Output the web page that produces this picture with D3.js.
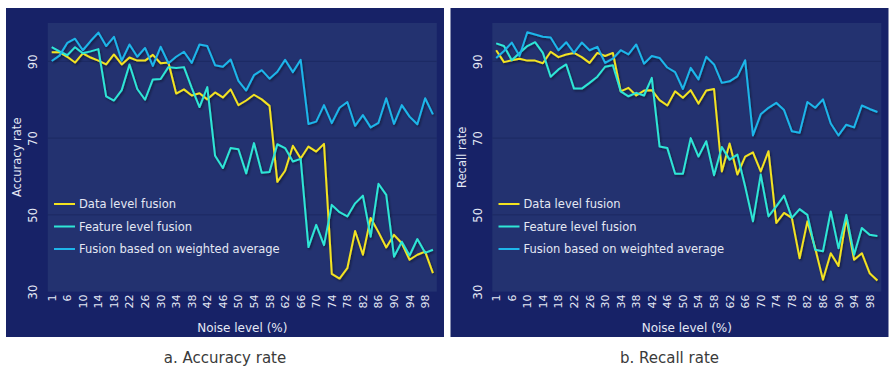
<!DOCTYPE html>
<html>
<head>
<meta charset="utf-8">
<script src="https://cdn.jsdelivr.net/npm/d3@7/dist/d3.min.js"></script>
<style>
  html, body { margin: 0; padding: 0; background: #ffffff; }
  svg { display: block; }
</style>
</head>
<body>
<svg id="chart" width="890" height="367"></svg>
<script>
// Noise levels (%) along the x axis
const noiseLevels = [1, 4, 6, 8, 10, 12, 14, 16, 18, 20, 22, 24, 26, 28, 30, 32, 34, 36, 38, 40,
  42, 44, 46, 48, 50, 52, 54, 56, 58, 60, 62, 64, 66, 68, 70, 72, 74, 76, 78, 80,
  82, 84, 86, 88, 90, 92, 94, 96, 98, 100];

// Labels printed under the x axis (every other noise level)
const tickLabels = ["1", "6", "10", "14", "18", "22", "26", "30", "34", "38", "42", "46", "50",
  "54", "58", "62", "66", "70", "74", "78", "82", "86", "90", "94", "98"];

const yTicks = [30, 50, 70, 90];

const seriesNames = ["Data level fusion", "Feature level fusion", "Fusion based on weighted average"];

// Accuracy rate (%)
const accuracyData = [92.4, 92.4, 91.2, 89.7, 92.1, 91.0, 90.2, 89.2, 91.8, 89.2, 91.0, 90.2, 90.2, 91.7, 89.5, 89.7,
  81.6, 82.7, 81.1, 81.7, 80.1, 81.9, 80.6, 82.7, 78.6, 79.8, 81.3, 80.1, 78.4, 58.6, 61.5, 68.0, 64.7, 67.8, 66.5, 68.5,
  34.6, 33.4, 36.1, 45.8, 39.6, 49.2, 45.5, 41.5, 44.8, 42.6, 38.3, 39.6, 40.4, 34.8];
const accuracyFeature = [93.7, 92.6, 91.6, 93.7, 92.1, 92.6, 93.2, 80.9, 79.8, 82.5, 89.2, 82.8, 80.0, 85.3, 85.4, 88.5,
  88.3, 88.5, 83.1, 78.1, 83.3, 65.4, 62.2, 67.4, 67.1, 60.8, 68.7, 61.0, 61.2, 68.4, 67.4, 63.9, 64.6, 41.6, 47.4, 42.1,
  52.6, 50.7, 49.6, 53.0, 55.0, 44.3, 58.1, 55.2, 39.1, 43.0, 39.4, 43.7, 40.1, 40.9];
const accuracyWeighted = [90.1, 91.5, 94.8, 95.9, 92.9, 95.3, 97.5, 94.0, 96.4, 90.2, 94.4, 91.2, 93.5, 88.8, 93.8, 89.5,
  91.2, 92.5, 89.6, 94.4, 94.0, 89.0, 88.6, 90.5, 84.9, 82.4, 86.4, 87.7, 85.5, 87.3, 90.4, 87.2, 90.4, 73.7, 74.3, 78.6,
  73.9, 77.9, 79.4, 73.2, 76.0, 72.8, 74.0, 80.4, 73.7, 78.6, 75.6, 73.6, 80.4, 76.2];

// Recall rate (%)
const recallData = [92.9, 89.8, 90.3, 90.7, 90.2, 90.2, 89.5, 92.5, 91.1, 91.8, 92.2, 91.1, 89.6, 92.2, 91.4, 92.2,
  82.2, 83.1, 81.1, 82.4, 82.5, 79.9, 78.5, 82.2, 80.5, 82.5, 79.0, 82.4, 82.8, 61.3, 68.6, 60.5, 65.2, 66.3, 61.3, 66.6,
  47.9, 50.5, 49.2, 38.7, 48.3, 41.3, 33.1, 40.0, 36.7, 49.2, 38.3, 40.0, 34.8, 32.9];
const recallFeature = [94.7, 94.0, 90.3, 92.2, 94.0, 95.0, 92.2, 86.0, 87.9, 89.2, 82.9, 82.9, 84.4, 86.0, 88.6, 89.0,
  82.2, 80.9, 81.8, 81.1, 85.7, 67.8, 67.4, 60.7, 60.7, 70.0, 65.2, 69.2, 60.3, 67.7, 64.4, 65.7, 57.4, 48.3, 60.5, 49.6,
  52.2, 55.0, 49.2, 51.5, 50.0, 40.9, 40.5, 50.9, 41.3, 50.0, 39.6, 46.6, 44.8, 44.5];
const recallWeighted = [90.9, 92.7, 94.9, 91.4, 97.6, 97.0, 96.4, 96.2, 92.9, 95.0, 92.2, 94.9, 92.9, 93.8, 89.6, 90.7,
  92.9, 91.8, 94.4, 89.4, 91.4, 90.9, 88.4, 87.2, 82.8, 88.3, 85.3, 91.2, 89.2, 84.4, 84.8, 86.1, 90.3, 70.7, 76.2, 77.9,
  79.2, 77.3, 71.8, 71.4, 79.4, 77.9, 80.1, 73.8, 70.7, 73.5, 72.8, 78.5, 77.6, 76.8];

const lineColors = ["#f3e320", "#2fe6d6", "#1eb6ea"];
const fontFamily = "'DejaVu Sans', Verdana, sans-serif";
const inkColor = "#e4e8f4";

const svg = d3.select("#chart");

// soft shadow under the lines
const defs = svg.append("defs");
const shadow = defs.append("filter").attr("id", "lineShadow")
  .attr("x", "-5%").attr("y", "-5%").attr("width", "110%").attr("height", "110%");
shadow.append("feDropShadow")
  .attr("dx", 1.2).attr("dy", 1.6).attr("stdDeviation", 1)
  .attr("flood-color", "#000000").attr("flood-opacity", 0.45);

function drawPanel(offsetX, yTitle, caption, series) {
  const g = svg.append("g").attr("transform", `translate(${offsetX},0)`);

  const panel = { x: 6, y: 8, w: 438, h: 329 };
  const plot = { left: 47.8, right: 436.8, top: 23, bottom: 291.6 };

  g.append("rect")
    .attr("x", panel.x).attr("y", panel.y)
    .attr("width", panel.w).attr("height", panel.h)
    .attr("fill", "#172267");

  g.append("rect")
    .attr("x", plot.left).attr("y", plot.top)
    .attr("width", plot.right - plot.left).attr("height", plot.bottom - plot.top)
    .attr("fill", "#233270");

  const x = d3.scalePoint()
    .domain(noiseLevels)
    .range([plot.left, plot.right])
    .padding(0.5);

  const y = d3.scaleLinear()
    .domain([30, 100])
    .range([plot.bottom, plot.top]);

  // horizontal gridlines
  g.append("g")
    .selectAll("line")
    .data(yTicks.slice(1))
    .join("line")
    .attr("x1", plot.left).attr("x2", plot.right)
    .attr("y1", d => y(d)).attr("y2", d => y(d))
    .attr("stroke", "#1c2963").attr("stroke-width", 1);

  // y axis (rotated tick labels); each tick group is already shifted to y(d)
  const yAxis = g.append("g")
    .attr("transform", `translate(${plot.left},0)`)
    .call(d3.axisLeft(y).tickValues(yTicks).tickSize(0).tickPadding(0));
  yAxis.select(".domain").remove();
  yAxis.selectAll("text")
    .attr("x", null).attr("dy", null)
    .attr("transform", `translate(${33 - plot.left},0) rotate(-90)`)
    .attr("text-anchor", "middle")
    .attr("dominant-baseline", "central")
    .attr("fill", inkColor)
    .style("font-family", fontFamily)
    .style("font-size", "11.5px");

  // x axis (vertical tick labels)
  const labelled = noiseLevels.filter(v => tickLabels.includes(String(v)));
  const xAxis = g.append("g")
    .attr("transform", `translate(0,${plot.bottom})`)
    .call(d3.axisBottom(x).tickValues(labelled).tickSize(0).tickPadding(0));
  xAxis.select(".domain").remove();
  xAxis.selectAll("text")
    .attr("y", null).attr("dy", null)
    .attr("transform", "translate(0,3) rotate(-90)")
    .attr("text-anchor", "end")
    .attr("dominant-baseline", "central")
    .attr("fill", inkColor)
    .style("font-family", fontFamily)
    .style("font-size", "11px");

  // axis titles
  g.append("text")
    .attr("x", (plot.left + plot.right) / 2).attr("y", 332)
    .attr("text-anchor", "middle")
    .attr("fill", inkColor)
    .style("font-family", fontFamily).style("font-size", "12px")
    .text("Noise level (%)");

  g.append("text")
    .attr("transform", `translate(17,${(plot.top + plot.bottom) / 2}) rotate(-90)`)
    .attr("text-anchor", "middle")
    .attr("dominant-baseline", "central")
    .attr("fill", inkColor)
    .style("font-family", fontFamily).style("font-size", "11.5px")
    .text(yTitle);

  // series lines
  const line = d3.line()
    .x((d, i) => x(noiseLevels[i]))
    .y(d => y(d));

  g.append("g").attr("filter", "url(#lineShadow)")
    .selectAll("path")
    .data(series)
    .join("path")
    .attr("d", d => line(d))
    .attr("fill", "none")
    .attr("stroke", (d, i) => lineColors[i])
    .attr("stroke-width", 2)
    .attr("stroke-linejoin", "round");

  // legend
  const legend = g.append("g").attr("transform", "translate(54,204)");
  const rows = legend.selectAll("g")
    .data(seriesNames)
    .join("g")
    .attr("transform", (d, i) => `translate(0,${i * 22.5})`);
  rows.append("line")
    .attr("x1", 0).attr("x2", 21)
    .attr("stroke", (d, i) => lineColors[i])
    .attr("stroke-width", 2);
  rows.append("text")
    .attr("x", 25).attr("y", 0)
    .attr("dominant-baseline", "central")
    .attr("fill", inkColor)
    .style("font-family", fontFamily).style("font-size", "11.5px")
    .text(d => d);

  // caption below the panel
  g.append("text")
    .attr("x", panel.x + panel.w / 2).attr("y", 363)
    .attr("text-anchor", "middle")
    .attr("fill", "#3a3a3a")
    .style("font-family", fontFamily).style("font-size", "15px")
    .text(caption);
}

drawPanel(0, "Accuracy rate", "a. Accuracy rate", [accuracyData, accuracyFeature, accuracyWeighted]);
drawPanel(444.5, "Recall rate", "b. Recall rate", [recallData, recallFeature, recallWeighted]);
</script>
</body>
</html>
